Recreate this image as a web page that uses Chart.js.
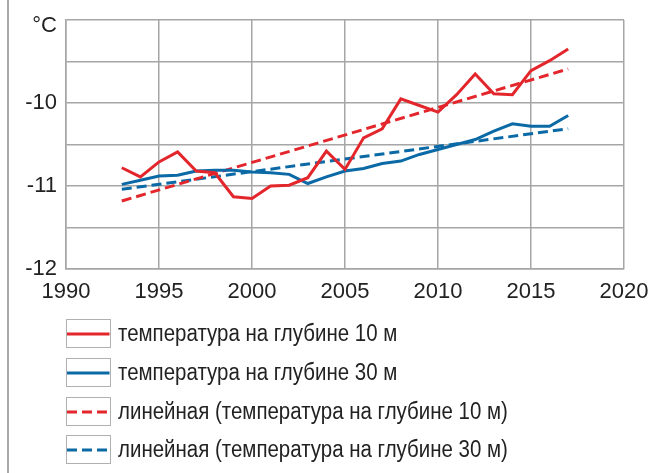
<!DOCTYPE html>
<html><head><meta charset="utf-8">
<script src="https://cdn.jsdelivr.net/npm/chart.js@4/dist/chart.umd.min.js"></script>
<style>
html,body{margin:0;padding:0;background:#fff;width:652px;height:473px;overflow:hidden;position:relative;}
#frame{position:absolute;left:7px;top:0;width:2px;height:473px;background:#a8a8a8;}
#wrap{position:absolute;left:0;top:0;width:652px;height:320px;}
#legend{position:absolute;left:66px;top:314.7px;font-family:"Liberation Sans",Arial,sans-serif;font-size:23px;color:#222;}
.row{height:38.6px;display:flex;align-items:center;white-space:nowrap;}
.box{width:42.5px;height:27px;border:1.5px solid #b0b0b0;margin-right:7px;display:flex;align-items:center;flex:none;}
.row span{display:inline-block;transform:scaleX(0.89);transform-origin:0 50%;}
</style></head>
<body>
<div id="frame"></div>
<div id="wrap"><canvas id="c"></canvas></div>
<div id="legend"></div>
<script>
const years = [1993,1994,1995,1996,1997,1998,1999,2000,2001,2002,2003,2004,2005,2006,2007,2008,2009,2010,2011,2012,2013,2014,2015,2016,2017];
const temp10 = [-10.78,-10.89,-10.71,-10.59,-10.82,-10.84,-11.13,-11.15,-11.00,-10.99,-10.90,-10.58,-10.80,-10.42,-10.31,-9.95,-10.03,-10.11,-9.90,-9.65,-9.89,-9.90,-9.61,-9.49,-9.35];
const temp30 = [-10.98,-10.93,-10.88,-10.87,-10.82,-10.81,-10.81,-10.83,-10.84,-10.86,-10.97,-10.89,-10.82,-10.79,-10.73,-10.70,-10.62,-10.56,-10.50,-10.44,-10.34,-10.25,-10.28,-10.28,-10.15];
const trendYears = [1993,2017];
const trend10 = [-11.18,-9.59];
const trend30 = [-11.04,-10.31];
const xTicks = [1990,1995,2000,2005,2010,2015,2020];
const yLabels = {"-12":"-12","-11":"-11","-10":"-10"};
const unitLabel = "°C";
const seriesNames = ["температура на глубине 10 м","температура на глубине 30 м","линейная (температура на глубине 10 м)","линейная (температура на глубине 30 м)"];

const RED = "#e3262b", BLUE = "#0b6aa6";
const pts = (xs, ys) => xs.map((x,i)=>({x:x,y:ys[i]}));
const FONT = "'Liberation Sans',Arial,sans-serif";

const unitPlugin = {
  id:'unit',
  afterDraw(chart){
    const ctx = chart.ctx, ys = chart.scales.y;
    ctx.save();
    ctx.font = "22px " + FONT;
    ctx.fillStyle = "#222";
    ctx.textAlign = "right";
    ctx.textBaseline = "middle";
    ctx.fillText(unitLabel, ys.right - 9, ys.getPixelForValue(-9) + 6);
    ctx.restore();
  }
};

new Chart(document.getElementById('c'), {
  type:'line',
  data:{datasets:[
    {label:seriesNames[0], data:pts(years,temp10), borderColor:RED, borderWidth:3, pointRadius:0, tension:0},
    {label:seriesNames[1], data:pts(years,temp30), borderColor:BLUE, borderWidth:3, pointRadius:0, tension:0},
    {label:seriesNames[2], data:pts(trendYears,trend10), borderColor:RED, borderWidth:3, borderDash:[10,5], pointRadius:0},
    {label:seriesNames[3], data:pts(trendYears,trend30), borderColor:BLUE, borderWidth:3, borderDash:[10,5], pointRadius:0}
  ]},
  options:{
    responsive:true, maintainAspectRatio:false, animation:false,
    layout:{padding:{left:0,top:20,right:28,bottom:0}},
    plugins:{legend:{display:false},tooltip:{enabled:false}},
    scales:{
      x:{type:'linear',min:1990,max:2020,
        afterBuildTicks(s){s.ticks = xTicks.map(v=>({value:v}));},
        afterFit(s){s.height = 51; s.paddingRight = 0; s.paddingLeft = 0;},
        grid:{color:'#a6a6a6',lineWidth:1.5,drawTicks:false},
        border:{color:'#a6a6a6',width:1.5},
        ticks:{padding:10,color:'#222',font:{family:FONT,size:22},maxRotation:0,callback:v=>String(v)}
      },
      y:{min:-12,max:-9,
        ticks:{stepSize:0.5,padding:9,color:'#222',font:{family:FONT,size:22},callback:v=>yLabels[String(v)]||''},
        afterFit(s){s.width = 66; s.paddingTop = 0; s.paddingBottom = 0;},
        grid:{color:'#a6a6a6',lineWidth:1.5,drawTicks:false},
        border:{color:'#a6a6a6',width:1.5}
      }
    }
  },
  plugins:[unitPlugin]
});

// HTML legend
const styles = [[RED,''],[BLUE,''],[RED,'10,5'],[BLUE,'10,5']];
const lg = document.getElementById('legend');
seriesNames.forEach((n,i)=>{
  const r = document.createElement('div'); r.className='row';
  const [c,d] = styles[i];
  r.innerHTML = '<div class="box"><svg width="42.5" height="27" style="display:block"><line x1="0" y1="14" x2="42.5" y2="14" stroke="'+c+'" stroke-width="3" '+(d?'stroke-dasharray="'+d+'"':'')+'/></svg></div><span>'+n+'</span>';
  lg.appendChild(r);
});
</script>
</body></html>
